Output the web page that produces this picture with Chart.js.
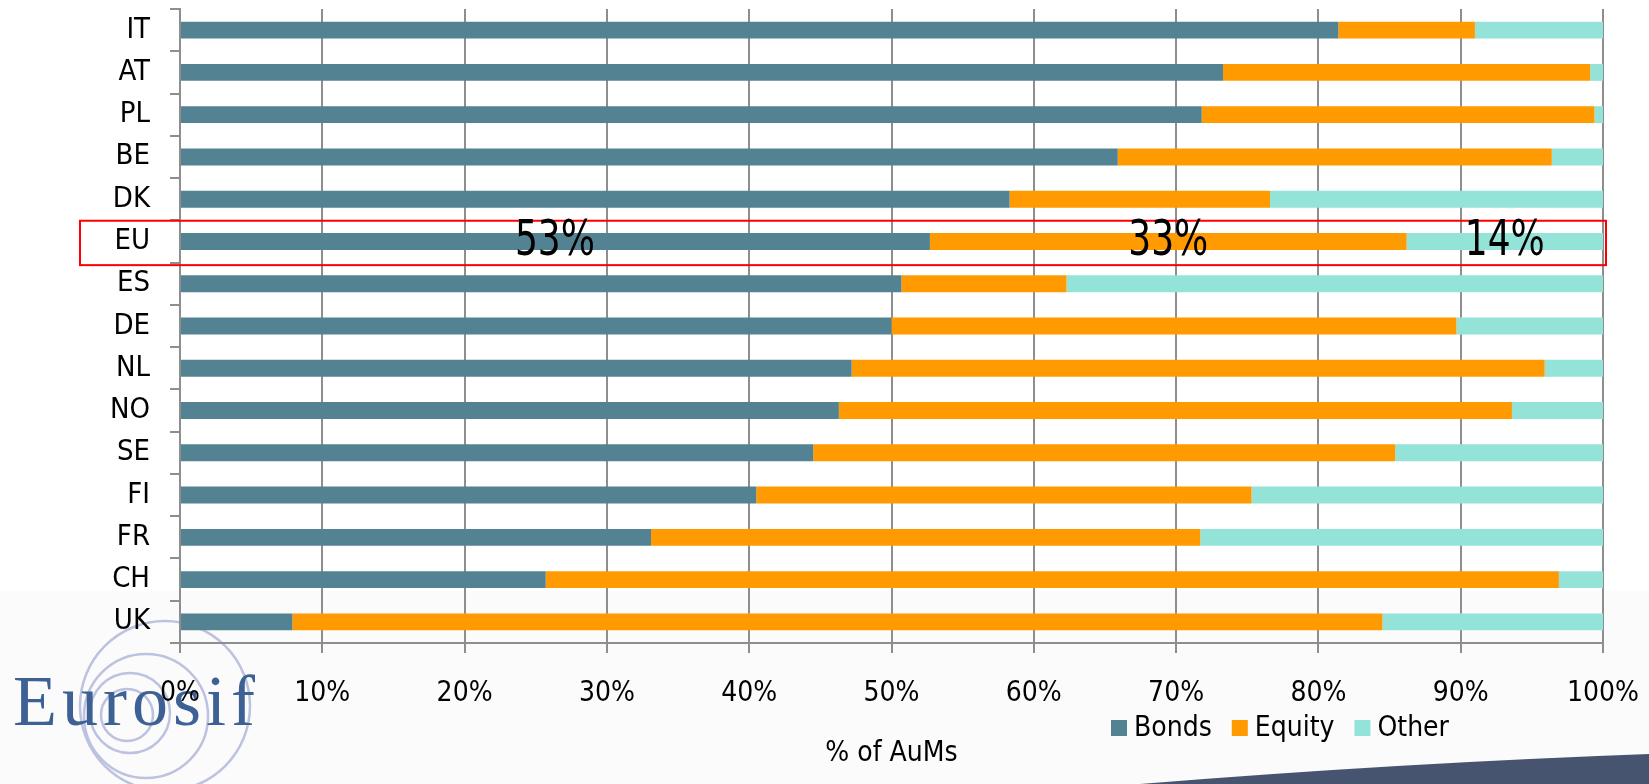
<!DOCTYPE html>
<html>
<head>
<meta charset="utf-8">
<title>SRI assets by asset class</title>
<script src="https://cdn.jsdelivr.net/npm/chart.js@4.4.1/dist/chart.umd.min.js"></script>
<style>
  html, body { margin: 0; padding: 0; background: #fff; }
  canvas { display: block; }
</style>
</head>
<body>
<canvas id="myChart" width="1649" height="784"></canvas>
<script>
// data (share of AuMs, %)
const countries = ['IT', 'AT', 'PL', 'BE', 'DK', 'EU', 'ES', 'DE', 'NL', 'NO', 'SE', 'FI', 'FR', 'CH', 'UK'];
const bonds  = [81.4, 73.3, 71.8, 65.9, 58.3, 52.7, 50.7, 50.0, 47.2, 46.3, 44.5, 40.5, 33.1, 25.7, 7.9];
const equity = [9.6, 25.8, 27.6, 30.5, 18.3, 33.5, 11.6, 39.7, 48.7, 47.3, 40.9, 34.8, 38.6, 71.2, 76.6];
const other  = [9.0, 0.9, 0.6, 3.6, 23.4, 13.8, 37.7, 10.3, 4.1, 6.4, 14.6, 24.7, 28.3, 3.1, 15.5];
const seriesNames = ['Bonds', 'Equity', 'Other'];
const seriesColors = ['#538292', '#ff9a00', '#94e3d9'];
const highlight = 'EU';
const highlightLabels = ['53%', '33%', '14%'];
const axisTitle = '% of AuMs';

const FONT = '"DejaVu Sans Condensed", "DejaVu Sans", sans-serif';
const GRID = '#8e8e8e';

// white slide, light grey footer, logo and the dark swoosh
const slideBackground = {
  id: 'slideBackground',
  beforeDraw(chart) {
    const { ctx, width, height } = chart;
    ctx.save();
    ctx.fillStyle = '#ffffff';
    ctx.fillRect(0, 0, width, height);
    ctx.fillStyle = '#fbfbfb';
    ctx.fillRect(0, 591, width, height - 591);

    ctx.fillStyle = '#475470';
    ctx.beginPath();
    ctx.moveTo(1140, height);
    ctx.quadraticCurveTo(1400, 763, width, 754);
    ctx.lineTo(width, height);
    ctx.closePath();
    ctx.fill();

    ctx.strokeStyle = '#bcc2df';
    ctx.lineWidth = 2.5;
    [[165, 706, 85], [146, 716, 62], [130, 713, 40], [127, 715, 26]].forEach(([cx, cy, r]) => {
      ctx.beginPath();
      ctx.arc(cx, cy, r, 0, Math.PI * 2);
      ctx.stroke();
    });

    ctx.fillStyle = '#3d6194';
    ctx.font = '72px "Liberation Serif", "DejaVu Serif", serif';
    ctx.letterSpacing = '5px';
    ctx.textBaseline = 'alphabetic';
    ctx.fillText('Eurosif', 13, 725);
    ctx.letterSpacing = '0px';
    ctx.restore();
  }
};

// red frame round the EU row + its three shares
const highlightRow = {
  id: 'highlightRow',
  afterDatasetsDraw(chart) {
    const { ctx, scales: { x, y } } = chart;
    const i = countries.indexOf(highlight);
    const cy = y.getPixelForValue(i);
    const band = y.getPixelForValue(1) - y.getPixelForValue(0);
    const left = x.left - 100;
    const right = x.getPixelForValue(100) + 3;
    ctx.save();
    ctx.strokeStyle = '#ff0000';
    ctx.lineWidth = 2;
    ctx.strokeRect(left, cy - band * 0.49, right - left, band * 1.05);

    ctx.fillStyle = '#000';
    ctx.font = '50px ' + FONT;
    ctx.textAlign = 'center';
    ctx.textBaseline = 'middle';
    const segs = [bonds[i], equity[i], other[i]];
    let start = 0;
    segs.forEach((v, k) => {
      const cx = x.getPixelForValue(start + v / 2);
      start += v;
      ctx.save();
      ctx.translate(cx, cy + 1);
      ctx.scale(0.8, 1);
      ctx.fillText(highlightLabels[k], 0, 0);
      ctx.restore();
    });
    ctx.restore();
  }
};

// legend sits between the tick labels and the axis title, right of centre
const bottomLegend = {
  id: 'bottomLegend',
  afterDraw(chart) {
    const ctx = chart.ctx;
    ctx.save();
    ctx.font = '28px ' + FONT;
    ctx.textBaseline = 'middle';
    ctx.textAlign = 'left';
    let lx = 1111;
    const ly = 728;
    chart.data.datasets.forEach(ds => {
      ctx.fillStyle = ds.backgroundColor;
      ctx.fillRect(lx, ly - 8, 16, 16);
      lx += 23;
      ctx.fillStyle = '#000';
      ctx.fillText(ds.label, lx, ly + 1);
      lx += ctx.measureText(ds.label).width + 20;
    });
    ctx.restore();
  }
};

const ctx = document.getElementById('myChart');

new Chart(ctx, {
  type: 'bar',
  data: {
    labels: countries,
    datasets: [bonds, equity, other].map((values, k) => ({
      label: seriesNames[k],
      data: values,
      backgroundColor: seriesColors[k],
      borderWidth: 0,
      barPercentage: 0.4,
      categoryPercentage: 1.0
    }))
  },
  options: {
    indexAxis: 'y',
    responsive: false,
    animation: false,
    devicePixelRatio: 1,
    layout: { padding: 0 },
    plugins: {
      legend: { display: false },
      tooltip: { enabled: false }
    },
    scales: {
      x: {
        stacked: true,
        min: 0,
        max: 100,
        // fixed plot box: bottom axis 141px tall, 46px free on the right
        afterFit: s => {
          s.height = 141;
          s.paddingLeft = 0;
          s.paddingRight = 46;
        },
        ticks: {
          stepSize: 10,
          callback: v => v + '%',
          color: '#000',
          padding: 24,
          maxRotation: 0,
          font: { family: FONT, size: 28 }
        },
        grid: { color: GRID, lineWidth: 2, tickLength: 10, drawTicks: true },
        border: { color: GRID, width: 2 },
        title: {
          display: true,
          text: axisTitle,
          color: '#000',
          font: { family: FONT, size: 28 },
          padding: { top: 0, bottom: 13 }
        }
      },
      y: {
        stacked: true,
        afterFit: s => {
          s.width = 180;
          s.paddingTop = 9;
          s.paddingBottom = 0;
        },
        ticks: {
          color: '#000',
          padding: 20,
          font: { family: FONT, size: 29 }
        },
        grid: { drawOnChartArea: false, offset: true, color: GRID, lineWidth: 2, tickLength: 10 },
        border: { color: GRID, width: 2 }
      }
    }
  },
  plugins: [slideBackground, highlightRow, bottomLegend]
});
</script>
</body>
</html>
